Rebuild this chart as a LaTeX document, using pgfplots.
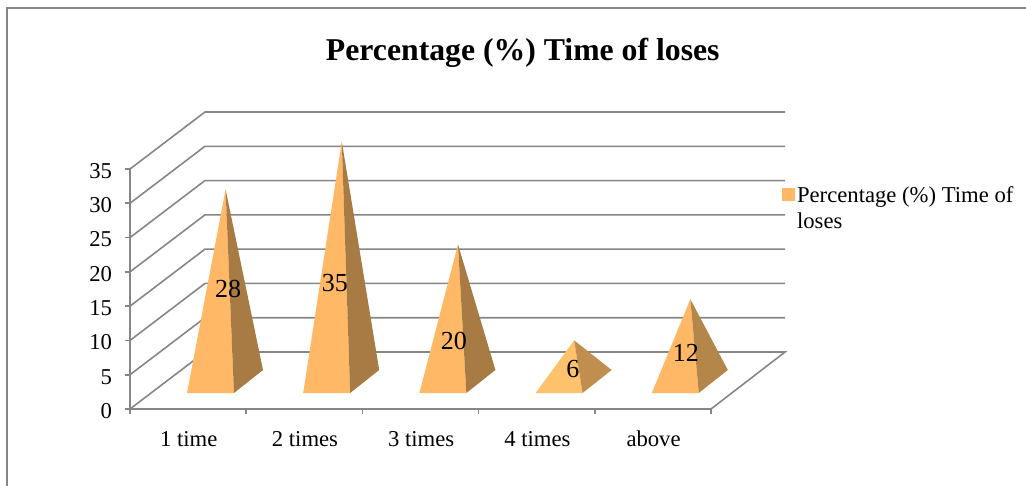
\documentclass[border=0pt]{standalone}
\usepackage{pgfplots}
\pgfplotsset{compat=1.18}
\usepackage{fontspec}
\setmainfont{Liberation Serif}
\definecolor{wall}{HTML}{868686}
\definecolor{frontface}{HTML}{FFB966}
\definecolor{frontlow}{HTML}{FFC26C}
\definecolor{sidetall}{HTML}{A77B43}
\definecolor{sidemid}{HTML}{B4864A}
\definecolor{sidelow}{HTML}{C08E4E}
\begin{document}
\begin{tikzpicture}[x=0.75pt,y=0.75pt]
% page and outer frame, in units of one pixel, y measured from the bottom
\useasboundingbox (0,0) rectangle (1026,486);
\fill[white] (0,0) rectangle (1026,486);
\draw[wall,line width=1.5pt] (7,0) -- (7,478) -- (1026,478);

% value axis, category axis and the walls behind the plot
\begin{axis}[
  at={(97.5pt,57.75pt)},anchor=south west,scale only axis,
  width=435.75pt,height=180pt,
  xmin=0,xmax=5,ymin=0,ymax=35,clip=false,
  axis lines=left,axis line style={wall,-,line width=1.3pt},
  tick style={wall,line width=1.2pt},tick align=outside,major tick length=4pt,
  xtick={0,1,2,3,4,5},x tick label as interval,
  xticklabels={1 time,2 times,3 times,4 times,above},
  ytick={0,5,10,15,20,25,30,35},
  /pgf/number format/assume math mode=true,
  tick label style={font=\fontsize{17}{19}\selectfont,text=black},
  xticklabel style={yshift=-9pt,xshift=0.5pt},
  yticklabel style={xshift=-6pt,yshift=-1.5pt},
  title={\fontsize{23.8}{28}\selectfont\bfseries Percentage (\%) Time of loses},
  title style={at={(0.676,1.45)},anchor=center},
]
\addplot[wall,line width=1.2pt] coordinates {(0,0) (0.645,8.31) (5.637,8.31) (5,0)};
\addplot[wall,line width=1.2pt] coordinates {(0,5) (0.645,13.31) (5.637,13.31)};
\addplot[wall,line width=1.2pt] coordinates {(0,10) (0.645,18.31) (5.637,18.31)};
\addplot[wall,line width=1.2pt] coordinates {(0,15) (0.645,23.31) (5.637,23.31)};
\addplot[wall,line width=1.2pt] coordinates {(0,20) (0.645,28.31) (5.637,28.31)};
\addplot[wall,line width=1.2pt] coordinates {(0,25) (0.645,33.31) (5.637,33.31)};
\addplot[wall,line width=1.2pt] coordinates {(0,30) (0.645,38.31) (5.637,38.31)};
\addplot[wall,line width=1.2pt] coordinates {(0,35) (0.645,43.31) (5.637,43.31)};
\end{axis}

% pyramids: y is the height above the centre of each base, so the apex sits at the value
\begin{axis}[
  at={(97.5pt,57.75pt)},anchor=south west,scale only axis,
  width=435.75pt,height=180pt,
  xmin=-0.8176,xmax=4.1824,ymin=-4.01,ymax=30.99,clip=false,
  hide axis,
  /pgf/number format/assume math mode=true,
  legend style={at={(1.122,0.945)},anchor=north west,draw=none,fill=none,
    font=\fontsize{17}{19}\selectfont,inner sep=0pt,outer sep=0pt,
    /tikz/every even column/.append style={column sep=3pt}},
  legend cell align=left,
]
\addlegendimage{legend image code/.code={\fill[frontface] (0pt,-4.5pt) rectangle (9pt,4.5pt);}}
\addlegendentry{\begin{tabular}[t]{@{}l@{}}Percentage (\%) Time of\\[0.5pt]loses\end{tabular}}

\addplot[fill=frontface,draw=none,forget plot] coordinates {(-0.327,-1.68) (0.077,-1.68) (0.005,28)} -- cycle;
\addplot[fill=sidetall,draw=none,forget plot] coordinates {(0.077,-1.68) (0.327,1.68) (0.005,28)} -- cycle;

\addplot[fill=frontface,draw=none,forget plot] coordinates {(0.673,-1.68) (1.077,-1.68) (1.005,35)} -- cycle;
\addplot[fill=sidetall,draw=none,forget plot] coordinates {(1.077,-1.68) (1.327,1.68) (1.005,35)} -- cycle;

\addplot[fill=frontface,draw=none,forget plot] coordinates {(1.673,-1.68) (2.077,-1.68) (2.005,20)} -- cycle;
\addplot[fill=sidetall,draw=none,forget plot] coordinates {(2.077,-1.68) (2.327,1.68) (2.005,20)} -- cycle;

\addplot[fill=frontlow,draw=none,forget plot] coordinates {(2.673,-1.68) (3.077,-1.68) (3.005,6)} -- cycle;
\addplot[fill=sidelow,draw=none,forget plot] coordinates {(3.077,-1.68) (3.327,1.68) (3.005,6)} -- cycle;

\addplot[fill=frontface,draw=none,forget plot] coordinates {(3.673,-1.68) (4.077,-1.68) (4.005,12)} -- cycle;
\addplot[fill=sidemid,draw=none,forget plot] coordinates {(4.077,-1.68) (4.327,1.68) (4.005,12)} -- cycle;

% value labels
\addplot[draw=none,mark=none,forget plot,point meta=explicit,
  nodes near coords,
  nodes near coords style={anchor=center,font=\fontsize{19.5}{22}\selectfont,text=black,inner sep=0pt}]
  coordinates {(0.026,13.49)[28] (0.946,14.3)[35] (1.970,5.9)[20] (2.994,1.82)[6] (3.966,4.1)[12]};
\end{axis}
\end{tikzpicture}
\end{document}
